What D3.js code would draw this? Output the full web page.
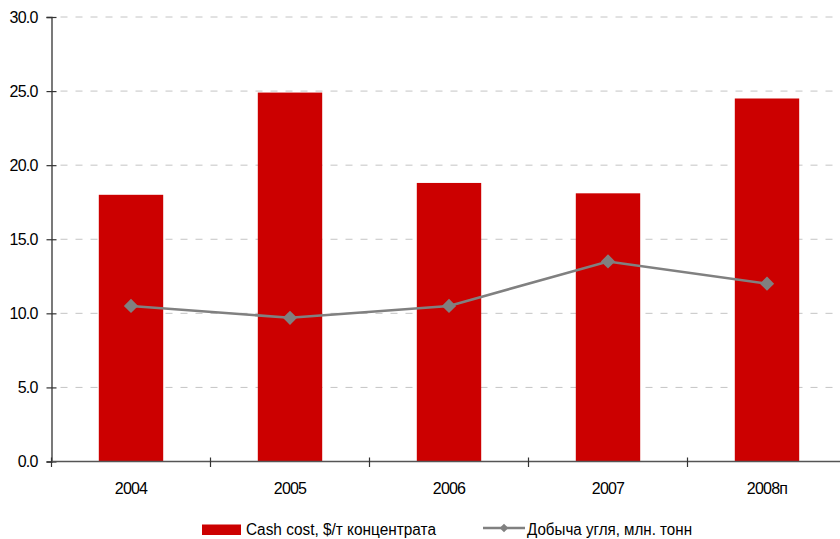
<!DOCTYPE html>
<html>
<head>
<meta charset="utf-8">
<script src="https://cdn.jsdelivr.net/npm/d3@7"></script>
<style>
  html, body { margin: 0; padding: 0; background: #fff; }
  svg { display: block; font-family: "Liberation Sans", Arial, sans-serif; }
</style>
</head>
<body>
<svg id="chart" width="840" height="539"></svg>
<script>
// Years on the category axis
const years = ["2004", "2005", "2006", "2007", "2008п"];
// Cash cost, $ per tonne of concentrate (bars)
const cashCost = [18.0, 24.9, 18.8, 18.1, 24.5];
// Coal output, million tonnes (line)
const coalOutput = [10.5, 9.7, 10.5, 13.5, 12.0];
// Value axis ticks
const yTicks = [0, 5, 10, 15, 20, 25, 30];
// Legend entries
const legendBar = "Cash cost, $/т концентрата";
const legendLine = "Добыча угля, млн. тонн";

const svg = d3.select("#chart");
const plot = { left: 51.5, right: 846.5, top: 17, bottom: 461.5 };

const x = d3.scaleBand().domain(years).range([plot.left, plot.right]).padding(0);
const y = d3.scaleLinear().domain([0, 30]).range([plot.bottom, plot.top]);
const barW = x.bandwidth() * 0.405;
const cx = d => x(d) + x.bandwidth() / 2;

// Dashed horizontal grid
svg.append("g").selectAll("line")
  .data(yTicks.filter(v => v > 0))
  .join("line")
  .attr("x1", plot.left + 9).attr("x2", 840)
  .attr("y1", d => y(d)).attr("y2", d => y(d))
  .attr("stroke", "#c4c4c4").attr("stroke-width", 1)
  .attr("stroke-dasharray", "7,8");

// Bars
svg.append("g").selectAll("rect")
  .data(years.map((c, i) => ({ c, v: cashCost[i] })))
  .join("rect")
  .attr("x", d => cx(d.c) - barW / 2)
  .attr("width", barW)
  .attr("y", d => y(d.v))
  .attr("height", d => y(0) - y(d.v))
  .attr("fill", "#cc0000");

// Y axis with ticks crossing the axis line
const yAxis = svg.append("g")
  .attr("transform", `translate(${plot.left},0)`)
  .call(d3.axisLeft(y).tickValues(yTicks).tickFormat(d3.format(".1f")).tickSize(5).tickPadding(9));
yAxis.select(".domain").attr("stroke", "#333").attr("stroke-width", 1.3);
yAxis.selectAll(".tick line").attr("x1", -5).attr("x2", 5).attr("stroke", "#333").attr("stroke-width", 1.2);
yAxis.selectAll(".tick text")
  .attr("fill", "#000").attr("font-size", 16).attr("letter-spacing", -0.8)
  .attr("font-family", "Liberation Sans, Arial, sans-serif");

// X axis line, boundary ticks and labels
const xg = svg.append("g");
xg.append("line")
  .attr("x1", plot.left).attr("x2", 840)
  .attr("y1", y(0)).attr("y2", y(0))
  .attr("stroke", "#555").attr("stroke-width", 1.3);
xg.selectAll("line.tick")
  .data(years.concat(["end"]))
  .join("line")
  .attr("class", "tick")
  .attr("x1", d => d === "end" ? plot.right : x(d))
  .attr("x2", d => d === "end" ? plot.right : x(d))
  .attr("y1", y(0) - 4).attr("y2", y(0) + 5.5)
  .attr("stroke", "#333").attr("stroke-width", 1.2);
xg.selectAll("text")
  .data(years)
  .join("text")
  .attr("x", d => cx(d))
  .attr("y", 494)
  .attr("text-anchor", "middle")
  .attr("font-size", 16).attr("letter-spacing", -0.8)
  .text(d => d);

// Coal output line with diamond markers
const line = d3.line().x(d => cx(d.c)).y(d => y(d.v));
const pts = years.map((c, i) => ({ c, v: coalOutput[i] }));
svg.append("path")
  .datum(pts)
  .attr("d", line)
  .attr("fill", "none")
  .attr("stroke", "#808080")
  .attr("stroke-width", 2.6);
const diamond = d3.symbol().type(d3.symbolDiamond2).size(130);
svg.append("g").selectAll("path")
  .data(pts)
  .join("path")
  .attr("d", diamond)
  .attr("transform", d => `translate(${cx(d.c)},${y(d.v)})`)
  .attr("fill", "#808080");

// Legend
const lg = svg.append("g");
lg.append("rect").attr("x", 202).attr("y", 524.5).attr("width", 39).attr("height", 10.5).attr("fill", "#cc0000");
lg.append("text").attr("x", 246).attr("y", 535).attr("font-size", 16)
  .attr("textLength", 190).attr("lengthAdjust", "spacingAndGlyphs").text(legendBar);
lg.append("line").attr("x1", 483).attr("x2", 525).attr("y1", 528).attr("y2", 528)
  .attr("stroke", "#808080").attr("stroke-width", 2.6);
lg.append("path").attr("d", d3.symbol().type(d3.symbolDiamond2).size(48))
  .attr("transform", "translate(504,528)").attr("fill", "#808080");
lg.append("text").attr("x", 527).attr("y", 535).attr("font-size", 16)
  .attr("textLength", 165).attr("lengthAdjust", "spacingAndGlyphs").text(legendLine);
</script>
</body>
</html>
